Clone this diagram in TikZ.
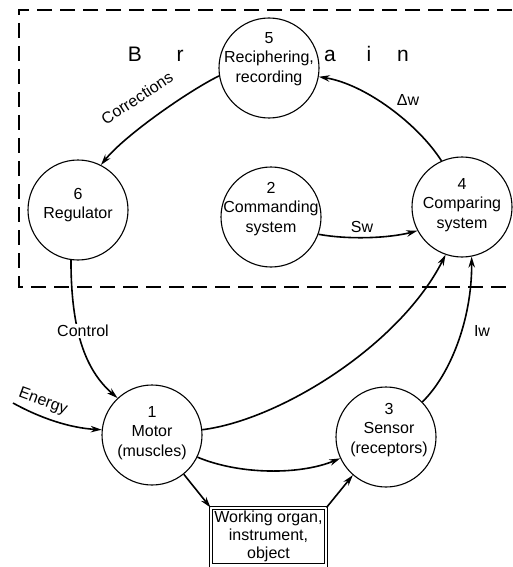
\documentclass[tikz,border=0pt]{standalone}
\usepackage{fontspec}
\setmainfont{Liberation Sans}
\usetikzlibrary{arrows.meta,calc}

\begin{document}
\begin{tikzpicture}[x=1pt,y=-1pt,
  ball/.style={draw, circle, line width=1.1pt, minimum size=100pt, inner sep=0pt},
  txt/.style={align=center, font=\fontsize{16}{19.5}\selectfont, inner sep=0pt},
  flow/.style={line width=1.6pt, -{Stealth[length=11pt,width=6.5pt]}},
  lbl/.style={font=\fontsize{16}{19}\selectfont, inner sep=1pt},
  brain/.style={font=\fontsize{21}{24}\selectfont, inner sep=0pt, anchor=base},
  frame/.style={line width=1.1pt, dash pattern=on 15pt off 8pt},
]
\useasboundingbox (0,0) rectangle (512,567);

% brain boundary (open to the right)
\draw[frame] (512,10) -- (19,10) -- (19,287) -- (512,287);

% spaced-out word inside the brain area
\node[brain] (bB) at (135,62) {B};
\node[brain] (bR) at (180,62) {r};
\node[brain] (bA) at (330,62) {a};
\node[brain] (bI) at (369,62) {i};
\node[brain] (bN) at (403,62) {n};

% blocks
\node[ball] (c5) at (269,68) {};
\node[txt] (t5) at (269,59) {5\\Reciphering,\\recording};
\node[ball] (c6) at (78,210) {};
\node[txt] (t6) at (78,205) {6\\Regulator};
\node[ball] (c2) at (271,217) {};
\node[txt] (t2) at (271,209) {2\\Commanding\\system};
\node[ball] (c4) at (462,207) {};
\node[txt] (t4) at (462,205) {4\\Comparing\\system};
\node[ball] (c1) at (152,435) {};
\node[txt] (t1) at (152,433) {1\\Motor\\(muscles)};
\node[ball] (c3) at (386,437) {};
\node[txt] (t3) at (389,430) {3\\Sensor\\(receptors)};

\node[draw, double, double distance=2.5pt, line width=1pt,
      minimum width=115pt, minimum height=57.5pt, inner sep=1pt,
      align=center, font=\fontsize{16}{18}\selectfont]
  (box) at (268.5,536.75) {Working organ,\\instrument,\\object};

% connectors
\draw[flow] (c5.189) .. controls (190,90) and (125,135) .. (c6.63);
\draw[flow] (c4.114) .. controls (418,124) and (365,84) .. (c5.350);
\draw[flow] (c2.340) .. controls (350,240) and (390,238) .. (c4.208);
\draw[flow] (c6.262) .. controls (71,330) and (85,370) .. (c1.133);
\draw[flow] (c1.6) .. controls (280,420) and (400,345) .. (c4.251);
\draw[flow] (c3.44) .. controls (450,375) and (472,320) .. (c4.281);
\coordinate (src) at (13,403);
\draw[flow] (src) .. controls (40,418) and (70,428) .. (c1.174);
\draw[flow] (c1.334) .. controls (240,475) and (300,475) .. (c3.205);
\draw[flow] (c1.-51) -- (box.north west);
\draw[flow] (box.north east) -- (c3.229);

% connector labels
\node[lbl, rotate=33] (lCorr) at (137,98) {Corrections};
\node[lbl] (lDw) at (408,100) {Δw};
\node[lbl] (lSw) at (362,227) {Sw};
\node[lbl, fill=white] (lCtrl) at (83,331) {Control};
\node[lbl] (lIw) at (482,331) {Iw};
\node[lbl, rotate=-20] (lEn) at (43,402) {Energy};
\end{tikzpicture}
\end{document}
